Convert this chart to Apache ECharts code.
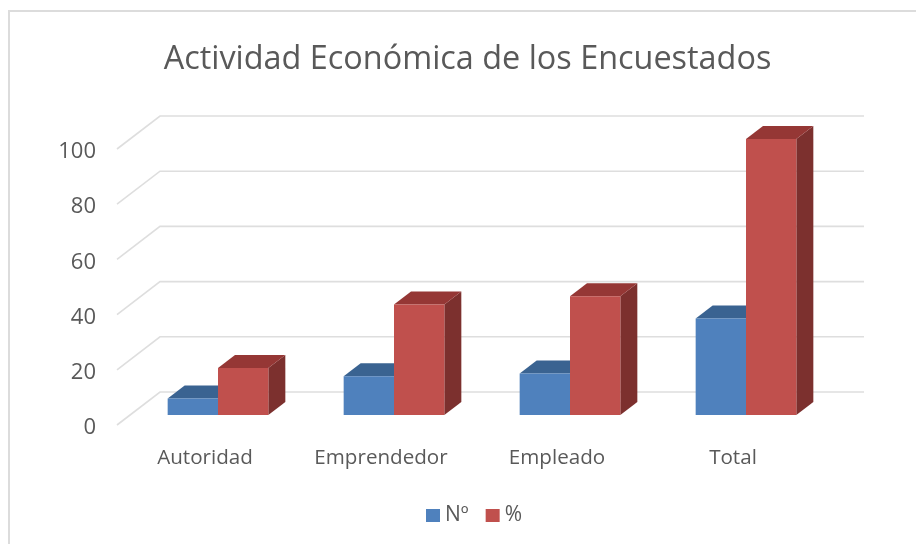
<!DOCTYPE html>
<html>
<head>
<meta charset="utf-8">
<style>
  html, body { margin: 0; padding: 0; background: #fff; }
  #chart { width: 916px; height: 544px; }
</style>
<script src="https://cdn.jsdelivr.net/npm/echarts@6/dist/echarts.min.js"></script>
</head>
<body>
<div id="chart"></div>
<script>
const categories = ["Autoridad", "Emprendedor", "Empleado", "Total"];
const countValues = [6, 14, 15, 35];
const percentValues = [17, 40, 43, 100];
const yTicks = [0, 20, 40, 60, 80, 100];

const FONT = "'Open Sans', sans-serif";
const TEXT = "#595959";

// fake 3D: pixel offsets of the floor depth
const DEPTH_X = 43, DEPTH_Y = -33;
const BAR_SHIFT_X = 13, BAR_SHIFT_Y = -10;
const BAR_DX = 17, BAR_DY = -13;
const BAR_SHARE = 0.286;

const chart = echarts.init(document.getElementById("chart"));

function gridLines(params, api) {
  const sys = params.coordSys;
  const y = api.coord([0, api.value(0)])[1];
  const x0 = sys.x, x1 = sys.x + sys.width;
  return {
    type: "polyline",
    silent: true,
    shape: { points: [[x0, y], [x0 + DEPTH_X, y + DEPTH_Y], [x1 + DEPTH_X, y + DEPTH_Y]] },
    style: { fill: null, stroke: "#DEDEDE", lineWidth: 1.6 },
  };
}

function bar3d(slot, front, top, side) {
  return function (params, api) {
    const base = api.coord([api.value(0), 0]);
    const head = api.coord([api.value(0), api.value(1)]);
    const w = api.size([1, 0])[0] * BAR_SHARE;
    const l = base[0] + BAR_SHIFT_X + slot * w;
    const r = l + w;
    const by = base[1] + BAR_SHIFT_Y;
    const ty = head[1] + BAR_SHIFT_Y;
    return {
      type: "group",
      children: [
        {
          type: "polygon",
          shape: { points: [[r, by], [r + BAR_DX, by + BAR_DY], [r + BAR_DX, ty + BAR_DY], [r, ty]] },
          style: { fill: side },
        },
        {
          type: "polygon",
          shape: { points: [[l, ty], [l + BAR_DX, ty + BAR_DY], [r + BAR_DX, ty + BAR_DY], [r, ty]] },
          style: { fill: top },
        },
        {
          type: "rect",
          shape: { x: l, y: ty, width: w, height: by - ty },
          style: { fill: front },
        },
      ],
    };
  };
}

const options = {
  animation: false,
  backgroundColor: "#fff",
  title: {
    text: "Actividad Económica de los Encuestados",
    left: 462.5,
    top: 39,
    textAlign: "center",
    textStyle: { fontFamily: FONT, fontSize: 32.4, fontWeight: "normal", color: TEXT },
  },
  legend: {
    data: ["Nº", "%"],
    left: 421,
    top: 500,
    itemWidth: 14,
    itemHeight: 13,
    itemGap: 17,
    icon: "rect",
    textStyle: { fontFamily: FONT, fontSize: 21, color: TEXT },
  },
  grid: { left: 117, right: 95, top: 149, bottom: 119 },
  xAxis: {
    type: "category",
    data: categories,
    axisLine: { show: false },
    axisTick: { show: false },
    axisLabel: { fontFamily: FONT, fontSize: 20.6, color: TEXT, margin: 23 },
  },
  yAxis: {
    type: "value",
    min: 0,
    max: 100,
    interval: 20,
    axisLine: { show: false },
    axisTick: { show: false },
    splitLine: { show: false },
    axisLabel: {
      fontFamily: FONT,
      fontSize: 22,
      color: TEXT,
      margin: 21,
      lineHeight: 22,
      verticalAlign: "top",
      verticalAlignMinLabel: "top",
      verticalAlignMaxLabel: "top",
      padding: [-8, 0, 0, 0],
    },
  },
  graphic: [
    {
      // only top and left edges of the frame are inside the picture
      type: "rect",
      silent: true,
      shape: { x: 9, y: 11, width: 920, height: 550 },
      style: { fill: null, stroke: "#DCDCDC", lineWidth: 2 },
    },
  ],
  series: [
    {
      name: "grid",
      type: "custom",
      renderItem: gridLines,
      data: yTicks.map((t) => [t]),
      encode: { y: 0 },
      z: 1,
      silent: true,
    },
    {
      name: "Nº",
      type: "custom",
      renderItem: bar3d(-1, "#4F81BD", "#3A6391", "#345A85"),
      itemStyle: { color: "#4F81BD" },
      data: categories.map((c, i) => [i, countValues[i]]),
      encode: { x: 0, y: 1 },
      z: 2,
    },
    {
      name: "%",
      type: "custom",
      renderItem: bar3d(0, "#C0504D", "#953735", "#7C302E"),
      itemStyle: { color: "#C0504D" },
      data: categories.map((c, i) => [i, percentValues[i]]),
      encode: { x: 0, y: 1 },
      z: 3,
    },
  ],
};

chart.setOption(options);
</script>
</body>
</html>
